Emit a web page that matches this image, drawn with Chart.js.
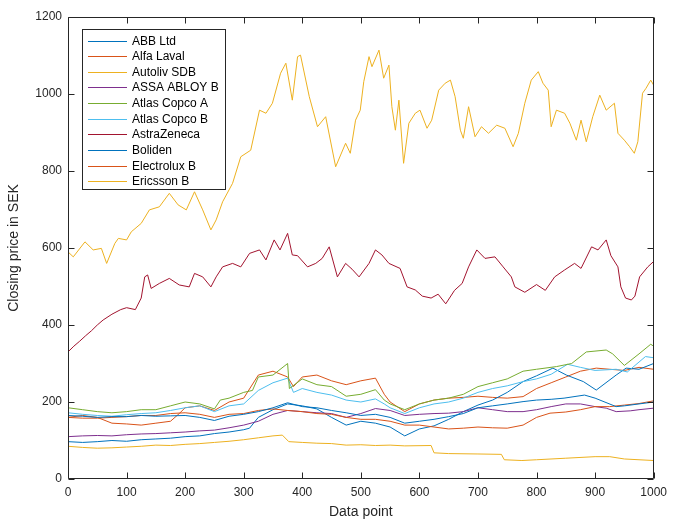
<!DOCTYPE html>
<html>
<head>
<meta charset="utf-8">
<script src="https://cdn.jsdelivr.net/npm/chart.js@4.4.0/dist/chart.umd.min.js"></script>
<style>
    html, body { margin: 0; padding: 0; background: #fff; }
    #wrap { width: 673px; height: 523px; position: relative; }
</style>
</head>
<body>
<div id="wrap"><canvas id="stockChart"></canvas></div>
<script>
// Closing prices, as [data point, SEK] pairs
const names = ['ABB Ltd', 'Alfa Laval', 'Autoliv SDB', 'ASSA ABLOY B', 'Atlas Copco A',
               'Atlas Copco B', 'AstraZeneca', 'Boliden', 'Electrolux B', 'Ericsson B'];

// MATLAB default colour order (cycles after 7)
const colors = ['#0072BD', '#D95319', '#EDB120', '#7E2F8E', '#77AC30', '#4DBEEE', '#A2142F',
                '#0072BD', '#D95319', '#EDB120'];

const xTicks = [0, 100, 200, 300, 400, 500, 600, 700, 800, 900, 1000];
const yTicks = [0, 200, 400, 600, 800, 1000, 1200];

const abb = [[0,165],[25,163],[50,160],[75,162],[100,162],[125,165],[150,163],[175,164],[200,165],[225,160],
    [250,152],[275,163],[300,168],[325,175],[350,185],[375,198],[400,188],[425,185],[450,178],[475,172],
    [500,165],[525,168],[550,160],[575,145],[600,150],[625,155],[650,162],[675,170],[700,185],[725,190],
    [750,195],[777,201],[800,205],[825,207],[847,210],[882,218],[900,210],[936,188],[950,190],[975,195],[1000,200]];

const alfaLaval = [[0,160],[25,158],[50,158],[75,160],[100,162],[125,165],[150,165],[175,170],[200,172],[225,168],
    [250,160],[275,168],[300,170],[325,178],[350,182],[375,178],[400,175],[425,170],[450,168],[475,160],
    [500,155],[525,155],[550,150],[575,140],[600,140],[625,135],[650,130],[675,132],[700,135],[725,133],
    [750,132],[777,140],[800,160],[823,171],[850,174],[875,180],[900,188],[925,188],[950,192],[975,196],[1000,203]];

const autoliv = [[0,590],[9,577],[29,616],[43,595],[57,599],[66,560],[80,612],[86,625],[100,621],[108,642],
    [125,664],[139,699],[156,707],[173,742],[188,712],[202,699],[216,746],[230,699],[244,647],[253,673],
    [264,720],[281,768],[295,837],[312,854],[327,958],[338,950],[349,976],[363,1054],[372,1080],[383,984],
    [392,1097],[397,1101],[412,993],[426,915],[440,941],[457,811],[474,872],[482,846],[491,932],[499,958],
    [505,1032],[514,1097],[519,1071],[531,1114],[539,1041],[548,1075],[553,967],[559,906],[565,984],[573,820],
    [582,924],[593,950],[601,958],[613,911],[621,932],[633,1010],[644,1028],[653,1036],[661,993],[670,906],
    [675,885],[684,967],[695,889],[706,915],[718,898],[732,919],[746,911],[760,863],[769,898],[780,976],
    [791,1036],[803,1058],[811,1028],[820,1010],[825,915],[834,958],[848,950],[857,924],[868,880],[876,932],
    [885,876],[896,941],[908,997],[919,958],[933,976],[939,898],[950,880],[959,863],[967,846],[973,876],
    [981,1002],[987,1015],[995,1036],[1000,1023]];

const assaAbloy = [[0,110],[25,112],[50,113],[75,112],[100,115],[125,117],[150,118],[175,120],[200,122],[225,125],
    [250,127],[275,133],[300,140],[325,150],[350,168],[375,178],[400,175],[425,172],[450,170],[475,160],
    [500,170],[525,183],[550,178],[575,165],[600,168],[625,170],[650,171],[675,175],[700,185],[725,180],
    [750,175],[777,175],[800,180],[825,188],[850,195],[875,195],[900,188],[919,184],[936,175],[960,177],
    [975,180],[1000,184]];

const atlasA = [[0,185],[25,180],[50,175],[75,172],[100,175],[125,180],[150,180],[175,190],[200,200],[225,195],
    [250,182],[260,205],[275,210],[300,225],[315,230],[325,265],[350,270],[375,300],[378,235],[400,260],
    [425,245],[450,240],[475,215],[500,220],[525,232],[540,205],[550,195],[575,180],[600,195],[625,205],
    [650,210],[675,220],[700,240],[725,250],[750,260],[777,280],[800,285],[834,292],[860,300],[885,330],
    [919,335],[930,325],[950,295],[975,325],[995,350],[1000,345]];

const atlasB = [[0,172],[25,168],[50,165],[75,163],[100,167],[125,170],[150,172],[175,178],[200,185],[225,190],
    [250,175],[275,190],[300,195],[325,230],[350,250],[375,262],[385,225],[400,235],[425,225],[450,218],
    [475,205],[500,200],[525,208],[540,195],[550,185],[575,170],[600,185],[625,195],[650,200],[675,210],
    [700,225],[725,235],[750,242],[777,253],[800,260],[825,272],[853,298],[875,290],[900,282],[936,285],
    [955,278],[986,318],[1000,315]];

const astraZeneca = [[0,330],[10,345],[20,358],[30,372],[40,385],[50,400],[60,413],[75,428],[90,440],[100,445],
    [115,440],[125,470],[131,525],[136,530],[142,495],[156,508],[173,521],[190,504],[207,499],[216,534],
    [230,525],[244,499],[253,525],[264,551],[281,560],[295,551],[310,586],[327,595],[338,569],[352,621],
    [362,595],[375,638],[383,582],[392,580],[409,551],[423,560],[434,573],[446,603],[460,525],[474,560],
    [485,545],[497,525],[514,560],[525,595],[536,582],[548,560],[567,547],[579,499],[593,491],[605,475],
    [620,470],[632,480],[645,455],[660,490],[673,508],[684,551],[698,595],[712,573],[729,577],[743,551],
    [757,525],[763,499],[780,485],[800,505],[815,490],[831,525],[848,543],[865,560],[876,547],[894,603],
    [905,595],[919,621],[927,580],[939,551],[944,499],[952,470],[962,465],[968,475],[976,525],[990,551],[1000,565]];

const boliden = [[0,97],[25,95],[50,97],[75,100],[100,98],[125,102],[150,104],[175,106],[200,110],[225,112],
    [250,118],[275,122],[300,128],[310,132],[325,160],[350,180],[375,195],[400,190],[425,182],[450,160],
    [475,140],[500,150],[525,145],[550,135],[575,112],[600,130],[625,138],[650,155],[675,175],[700,192],
    [725,205],[750,225],[777,253],[800,268],[828,288],[851,270],[880,253],[902,231],[936,270],[953,288],
    [975,285],[1000,300]];

const electrolux = [[0,160],[25,165],[50,160],[75,145],[100,143],[125,140],[150,145],[175,150],[190,170],[200,185],
    [225,190],[250,178],[275,200],[300,210],[325,270],[350,280],[375,265],[385,240],[400,265],[425,270],
    [450,255],[475,245],[500,255],[525,262],[540,220],[550,200],[575,175],[600,195],[625,205],[650,210],
    [675,212],[700,215],[725,212],[750,210],[777,214],[800,235],[825,250],[850,265],[875,280],[902,288],
    [925,285],[950,282],[975,290],[1000,285]];

const ericsson = [[0,85],[25,82],[50,80],[75,81],[100,83],[125,85],[150,88],[175,87],[200,90],[225,92],
    [250,95],[275,98],[300,102],[325,107],[350,112],[366,114],[377,97],[400,95],[425,93],[450,92],
    [475,88],[500,89],[525,87],[550,88],[575,86],[620,87],[625,68],[650,66],[700,65],[740,64],
    [745,50],[775,48],[800,50],[850,54],[900,58],[925,58],[950,52],[975,50],[1000,48]];

const seriesData = [abb, alfaLaval, autoliv, assaAbloy, atlasA, atlasB, astraZeneca, boliden, electrolux, ericsson];

const axisColor = '#262626';
const fontFamily = '"Liberation Sans", Arial, Helvetica, sans-serif';

// inward ticks and a full box, like MATLAB axes
const matlabAxes = {
    id: 'matlabAxes',
    afterDatasetsDraw(chart) {
        const { ctx, chartArea: a, scales: { x, y } } = chart;
        const tl = 6;
        const L = Math.round(a.left) + 0.5, R = Math.round(a.right) - 0.5;
        const T = Math.round(a.top) + 0.5, B = Math.round(a.bottom) - 0.5;
        ctx.save();
        ctx.strokeStyle = axisColor;
        ctx.lineWidth = 1;
        ctx.beginPath();
        xTicks.forEach(v => {
            const px = Math.round(x.getPixelForValue(v)) + 0.5;
            ctx.moveTo(px, B); ctx.lineTo(px, B - tl);
            ctx.moveTo(px, T); ctx.lineTo(px, T + tl);
        });
        yTicks.forEach(v => {
            const py = Math.round(y.getPixelForValue(v)) + 0.5;
            ctx.moveTo(L, py); ctx.lineTo(L + tl, py);
            ctx.moveTo(R, py); ctx.lineTo(R - tl, py);
        });
        ctx.rect(L, T, R - L, B - T);
        ctx.stroke();
        ctx.restore();
    }
};

// legend box in the upper left of the axes
const insideLegend = {
    id: 'insideLegend',
    afterDraw(chart) {
        const { ctx } = chart;
        const bx = 82.5, by = 29.5, bw = 143, bh = 160;
        const rowH = 15.65;
        ctx.save();
        ctx.fillStyle = '#fff';
        ctx.fillRect(bx, by, bw, bh);
        ctx.strokeStyle = axisColor;
        ctx.lineWidth = 1;
        ctx.strokeRect(bx, by, bw, bh);
        ctx.font = '12px ' + fontFamily;
        ctx.textBaseline = 'middle';
        ctx.textAlign = 'left';
        chart.data.datasets.forEach((ds, i) => {
            const ry = Math.round(by + 11 + i * rowH) + 0.5;
            ctx.strokeStyle = ds.borderColor;
            ctx.beginPath();
            ctx.moveTo(88, ry);
            ctx.lineTo(127, ry);
            ctx.stroke();
            ctx.fillStyle = '#000';
            ctx.fillText(ds.label, 132, ry);
        });
        ctx.restore();
    }
};

const plainTick = v => String(v);

const ctx = document.getElementById('stockChart');
new Chart(ctx, {
    type: 'line',
    data: {
        datasets: names.map((name, i) => ({
            label: name,
            data: seriesData[i],
            borderColor: colors[i],
            backgroundColor: colors[i],
            borderWidth: 1,
            pointRadius: 0,
            tension: 0,
            fill: false
        }))
    },
    options: {
        responsive: true,
        maintainAspectRatio: false,
        animation: false,
        layout: { padding: { top: 17, right: 17, left: 0, bottom: 0 } },
        plugins: {
            legend: { display: false },
            tooltip: { enabled: false }
        },
        scales: {
            x: {
                type: 'linear',
                min: 0,
                max: 1000,
                afterBuildTicks: scale => { scale.ticks = xTicks.map(v => ({ value: v })); },
                afterFit: scale => { scale.height = 44; },
                ticks: { color: axisColor, font: { family: fontFamily, size: 12 }, padding: 6, callback: plainTick },
                grid: { display: false, drawTicks: false },
                border: { display: false },
                title: {
                    display: true,
                    text: 'Data point',
                    color: axisColor,
                    font: { family: fontFamily, size: 14 },
                    padding: { top: 0, bottom: 2 }
                }
            },
            y: {
                min: 0,
                max: 1200,
                afterBuildTicks: scale => { scale.ticks = yTicks.map(v => ({ value: v })); },
                afterFit: scale => { scale.width = 68; },
                ticks: { color: axisColor, font: { family: fontFamily, size: 12 }, padding: 6, callback: plainTick },
                grid: { display: false, drawTicks: false },
                border: { display: false },
                title: {
                    display: true,
                    text: 'Closing price in SEK',
                    color: axisColor,
                    font: { family: fontFamily, size: 14 },
                    padding: { top: 6, bottom: 0 }
                }
            }
        }
    },
    plugins: [matlabAxes, insideLegend]
});
</script>
</body>
</html>
